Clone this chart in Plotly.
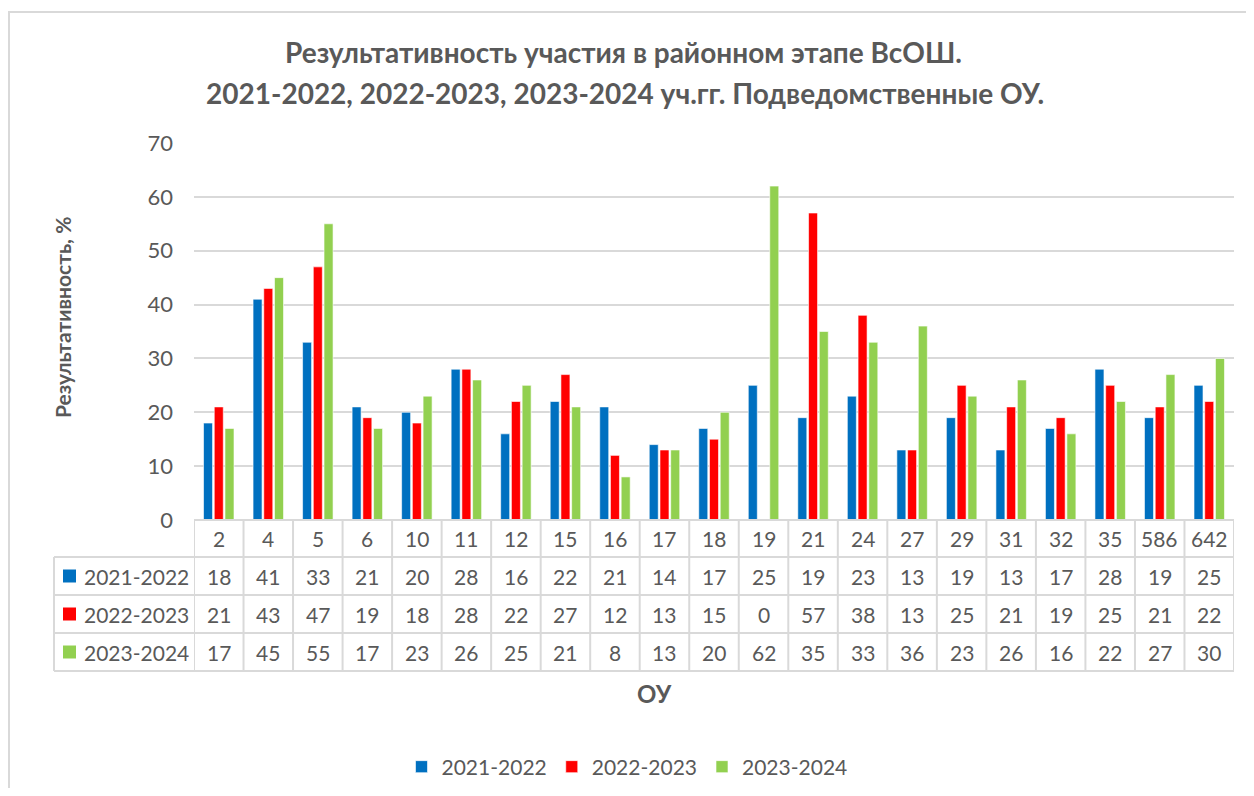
import plotly.graph_objects as go

categories = ["2", "4", "5", "6", "10", "11", "12", "15", "16", "17", "18",
              "19", "21", "24", "27", "29", "31", "32", "35", "586", "642"]
s_2021_2022 = [18, 41, 33, 21, 20, 28, 16, 22, 21, 14, 17, 25, 19, 23, 13, 19, 13, 17, 28, 19, 25]
s_2022_2023 = [21, 43, 47, 19, 18, 28, 22, 27, 12, 13, 15, 0, 57, 38, 13, 25, 21, 19, 25, 21, 22]
s_2023_2024 = [17, 45, 55, 17, 23, 26, 25, 21, 8, 13, 20, 62, 35, 33, 36, 23, 26, 16, 22, 27, 30]
series_names = ["2021-2022", "2022-2023", "2023-2024"]
series_values = [s_2021_2022, s_2022_2023, s_2023_2024]
colors = ["#0070C0", "#FF0000", "#92D050"]
y_ticks = [0, 10, 20, 30, 40, 50, 60, 70]

title_line1 = "Результативность участия в районном этапе ВсОШ."
title_line2 = "2021-2022, 2022-2023, 2023-2024 уч.гг. Подведомственные ОУ."
y_title = "Результативность, %"
x_title = "ОУ"

PAGE_W, PAGE_H = 1254, 796
OFF = 8  # default body margin of the html page
W, H = PAGE_W - 2 * OFF, PAGE_H - 2 * OFF
FONT = "Lato"
TXT = "#595959"
GRID = "#D9D9D9"


def px(x):
    return (x - OFF) / W


def py(y):
    return 1 - (y - OFF) / H


fig = go.Figure()
for name, vals, col in zip(series_names, series_values, colors):
    fig.add_trace(go.Bar(
        x=categories, y=vals, name=name,
        marker=dict(color=col, line=dict(color="white", width=0.6)),
    ))

# table geometry (page pixels)
left_x, plot_l, plot_r = 54, 194, 1234
row_edges = [520, 557, 595, 633, 671]

shapes = []
# outer frame
shapes.append(dict(type="rect", xref="paper", yref="paper",
                   x0=px(9), x1=1.05, y0=py(12), y1=-0.05,
                   line=dict(color=GRID, width=2), layer="below"))
# horizontal table lines
for i, ye in enumerate(row_edges):
    x0 = plot_l if i == 0 else left_x
    shapes.append(dict(type="line", xref="paper", yref="paper",
                       x0=px(x0), x1=px(plot_r), y0=py(ye), y1=py(ye),
                       line=dict(color=GRID, width=2)))
# vertical lines at category boundaries
for i in range(len(categories) + 1):
    shapes.append(dict(type="line", xref="x", yref="paper",
                       x0=i - 0.5, x1=i - 0.5, y0=py(row_edges[0]), y1=py(row_edges[-1]),
                       line=dict(color=GRID, width=2)))
# left border of label column
shapes.append(dict(type="line", xref="paper", yref="paper",
                   x0=px(left_x), x1=px(left_x), y0=py(row_edges[1]), y1=py(row_edges[-1]),
                   line=dict(color=GRID, width=2)))

annotations = []
CELL_FONT = dict(family=FONT, size=21, color=TXT)


def note(**kw):
    base = dict(showarrow=False, xanchor="center", yanchor="middle")
    base.update(kw)
    annotations.append(base)


# header row: categories
hdr_c = (row_edges[0] + row_edges[1]) / 2
for i, c in enumerate(categories):
    note(x=i, xref="x", y=py(hdr_c), yref="paper", text=c, font=CELL_FONT)
# data rows
for r, (name, vals, col) in enumerate(zip(series_names, series_values, colors)):
    yc = (row_edges[r + 1] + row_edges[r + 2]) / 2
    for i, v in enumerate(vals):
        note(x=i, xref="x", y=py(yc), yref="paper", text=str(v), font=CELL_FONT)
    shapes.append(dict(type="rect", xref="paper", yref="paper",
                       x0=px(63), x1=px(76), y0=py(yc - 6.5), y1=py(yc + 6.5),
                       fillcolor=col, line=dict(width=0)))
    note(x=px(82), xref="paper", y=py(yc), yref="paper", text=name, xanchor="left", font=CELL_FONT)

# titles
note(x=px(623), y=py(52), xref="paper", yref="paper", text=f"<b>{title_line1}</b>",
     font=dict(family=FONT, size=28, color=TXT))
note(x=px(625), y=py(93), xref="paper", yref="paper", text=f"<b>{title_line2}</b>",
     font=dict(family=FONT, size=28, color=TXT))
note(x=px(63), y=py(318), xref="paper", yref="paper", text=f"<b>{y_title}</b>",
     textangle=-90, font=dict(family=FONT, size=21, color=TXT))
note(x=px(654), y=py(693), xref="paper", yref="paper", text=f"<b>{x_title}</b>",
     font=dict(family=FONT, size=24, color=TXT))

fig.update_layout(
    width=W, height=H,
    margin=dict(l=0, r=0, t=0, b=0, pad=0, autoexpand=False),
    paper_bgcolor="white", plot_bgcolor="white",
    barmode="group", bargap=0.35, bargroupgap=0.16,
    font=dict(family=FONT, size=21, color=TXT),
    xaxis=dict(domain=[px(plot_l), px(plot_r)], type="category", range=[-0.5, len(categories) - 0.5],
               showticklabels=False, showgrid=False, zeroline=False, showline=False, ticks="",
               automargin=False),
    yaxis=dict(domain=[py(520), py(143)], range=[0, 70], tickvals=y_ticks,
               showgrid=True, gridcolor=GRID, gridwidth=1.5, zeroline=False, showline=False,
               ticks="", ticklabelstandoff=20, tickfont=dict(family=FONT, size=22, color=TXT),
               automargin=False),
    legend=dict(orientation="h", x=0.5, xanchor="center", y=py(767), yanchor="middle",
                font=dict(family=FONT, size=21, color=TXT), itemwidth=30, traceorder="normal"),
    shapes=shapes, annotations=annotations,
)

fig.write_html("out.html")
